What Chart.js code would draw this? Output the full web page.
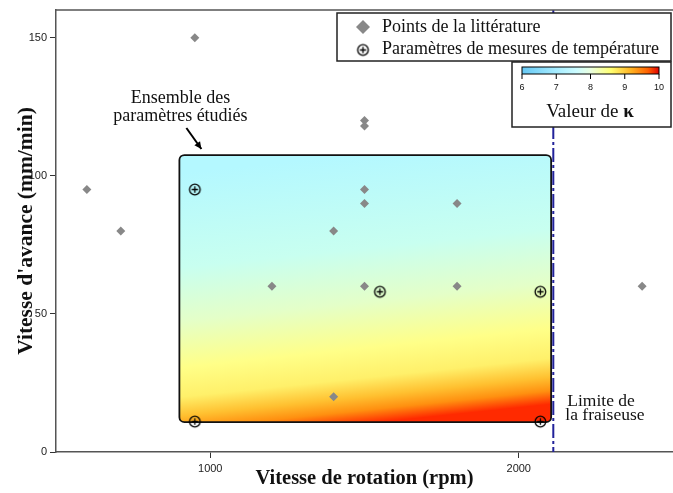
<!DOCTYPE html>
<html>
<head>
<meta charset="utf-8">
<script src="https://cdn.jsdelivr.net/npm/chart.js@4.4.0/dist/chart.umd.min.js"></script>
<style>html,body{margin:0;padding:0;background:#fff}</style>
</head>
<body>
<canvas id="myChart" width="673" height="493"></canvas>
<script>
// Données
const litRpm = [600, 710, 950, 1200, 1400, 1400, 1500, 1500, 1500, 1500, 1500, 1800, 1800, 2400];
const litFeed = [95, 80, 150, 60, 80, 20, 120, 118, 95, 90, 60, 90, 60, 60];
const mesRpm = [950, 1550, 2070, 950, 2070];
const mesFeed = [95, 58, 58, 11, 11];
const zoneRpm = [900, 2105];
const zoneFeed = [10.8, 107.5];
const limiteRpm = 2112;
const xTicks = [1000, 2000];
const yTicks = [0, 50, 100, 150];
const kappaTicks = [6, 7, 8, 9, 10];

const SERIF = "'Liberation Serif', 'Times New Roman', serif";
const SANS = "'Liberation Sans', Arial, sans-serif";

function circlePlus(r) {
    const s = Math.ceil(r * 2 + 4);
    const c = document.createElement('canvas');
    c.width = s; c.height = s;
    const g = c.getContext('2d');
    const m = s / 2;
    g.strokeStyle = '#000';
    g.lineWidth = 1.3;
    g.beginPath(); g.arc(m, m, r, 0, Math.PI * 2); g.stroke();
    g.beginPath();
    g.moveTo(m - r * 0.6, m); g.lineTo(m + r * 0.6, m);
    g.moveTo(m, m - r * 0.6); g.lineTo(m, m + r * 0.6);
    g.stroke();
    return c;
}
const markerMes = circlePlus(5.3);

function toPoints(xs, ys) {
    return xs.map((v, i) => ({ x: v, y: ys[i] }));
}

const decor = {
    id: 'decor',
    beforeDatasetsDraw(chart) {
        const { ctx, chartArea } = chart;
        const x = chart.scales.x, y = chart.scales.y;
        const x0 = x.getPixelForValue(zoneRpm[0]), x1 = x.getPixelForValue(zoneRpm[1]);
        const y0 = y.getPixelForValue(zoneFeed[1]), y1 = y.getPixelForValue(zoneFeed[0]);
        const cx = (x0 + x1) / 2;
        const grad = ctx.createLinearGradient(cx - 14, y0, cx + 14, y1);
        grad.addColorStop(0, '#b4f8ff');
        grad.addColorStop(0.35, '#c8fff0');
        grad.addColorStop(0.55, '#e4ffc8');
        grad.addColorStop(0.72, '#ffff88');
        grad.addColorStop(0.83, '#fff06a');
        grad.addColorStop(0.9, '#ffc030');
        grad.addColorStop(0.95, '#ff9010');
        grad.addColorStop(1, '#ff2a00');
        ctx.save();
        ctx.beginPath();
        ctx.roundRect(x0, y0, x1 - x0, y1 - y0, 5);
        ctx.fillStyle = grad;
        ctx.fill();
        ctx.lineWidth = 1.8;
        ctx.strokeStyle = '#111';
        ctx.stroke();

        // limite de la fraiseuse
        const lx = x.getPixelForValue(limiteRpm);
        ctx.setLineDash([14, 3, 3, 3]);
        ctx.strokeStyle = '#22229a';
        ctx.lineWidth = 2;
        ctx.beginPath();
        ctx.moveTo(lx, chartArea.top);
        ctx.lineTo(lx, chartArea.bottom);
        ctx.stroke();
        ctx.setLineDash([]);

        // flèche + textes
        ctx.fillStyle = '#111';
        ctx.font = '18px ' + SERIF;
        ctx.textAlign = 'center';
        ctx.textBaseline = 'middle';
        ctx.fillText('Ensemble des', x0 + 1, y0 - 57);
        ctx.fillText('paramètres étudiés', x0 + 1, y0 - 39);
        ctx.strokeStyle = '#000';
        ctx.lineWidth = 2;
        const ax = x0 + 7, ay = y0 - 27, bx = x0 + 22, by = y0 - 6;
        ctx.beginPath(); ctx.moveTo(ax, ay); ctx.lineTo(bx, by); ctx.stroke();
        const ang = Math.atan2(by - ay, bx - ax);
        ctx.beginPath();
        ctx.moveTo(bx, by);
        ctx.lineTo(bx - 8 * Math.cos(ang - 0.45), by - 8 * Math.sin(ang - 0.45));
        ctx.lineTo(bx - 8 * Math.cos(ang + 0.45), by - 8 * Math.sin(ang + 0.45));
        ctx.closePath();
        ctx.fillStyle = '#000';
        ctx.fill();

        ctx.fillStyle = '#111';
        ctx.font = '17.5px ' + SERIF;
        ctx.textAlign = 'left';
        ctx.fillText('Limite de', lx + 14, chartArea.bottom - 51);
        ctx.fillText('la fraiseuse', lx + 12, chartArea.bottom - 37);
        ctx.restore();
    },
    afterDraw(chart) {
        const { ctx, chartArea } = chart;
        ctx.save();
        // cadre haut
        ctx.strokeStyle = '#555';
        ctx.lineWidth = 1.5;
        ctx.beginPath();
        ctx.moveTo(chartArea.left, chartArea.top);
        ctx.lineTo(chartArea.right, chartArea.top);
        ctx.stroke();

        // légende
        const L = { x: 337, y: 13, w: 334, h: 48 };
        ctx.fillStyle = '#fff';
        ctx.fillRect(L.x, L.y, L.w, L.h);
        ctx.strokeStyle = '#222';
        ctx.lineWidth = 1.5;
        ctx.strokeRect(L.x, L.y, L.w, L.h);
        ctx.fillStyle = '#888';
        ctx.beginPath();
        ctx.moveTo(363, 27 - 7); ctx.lineTo(363 + 7, 27); ctx.lineTo(363, 27 + 7); ctx.lineTo(363 - 7, 27);
        ctx.closePath(); ctx.fill();
        ctx.drawImage(markerMes, 363 - markerMes.width / 2, 50 - markerMes.height / 2);
        ctx.fillStyle = '#111';
        ctx.font = '18px ' + SERIF;
        ctx.textAlign = 'left';
        ctx.textBaseline = 'middle';
        ctx.fillText('Points de la littérature', 382, 27);
        ctx.fillText('Paramètres de mesures de température', 382, 49);

        // barre de couleur
        const C = { x: 512, y: 62, w: 159, h: 65 };
        ctx.fillStyle = '#fff';
        ctx.fillRect(C.x, C.y, C.w, C.h);
        ctx.strokeRect(C.x, C.y, C.w, C.h);
        const bx0 = 522, bx1 = 659, by0 = 67, by1 = 74;
        const kmin = kappaTicks[0], kmax = kappaTicks[kappaTicks.length - 1];
        const cg = ctx.createLinearGradient(bx0, 0, bx1, 0);
        cg.addColorStop(0, '#66c8f4');
        cg.addColorStop(0.25, '#a6ecff');
        cg.addColorStop(0.4, '#ccfcff');
        cg.addColorStop(0.5, '#eaffe0');
        cg.addColorStop(0.65, '#ffff70');
        cg.addColorStop(0.8, '#ffb020');
        cg.addColorStop(0.92, '#ff6000');
        cg.addColorStop(1, '#e00000');
        ctx.fillStyle = cg;
        ctx.fillRect(bx0, by0, bx1 - bx0, by1 - by0);
        ctx.lineWidth = 1;
        ctx.strokeStyle = '#000';
        ctx.strokeRect(bx0, by0, bx1 - bx0, by1 - by0);
        ctx.font = '9px ' + SANS;
        ctx.textAlign = 'center';
        ctx.fillStyle = '#111';
        kappaTicks.forEach(k => {
            const px = bx0 + (k - kmin) / (kmax - kmin) * (bx1 - bx0);
            ctx.beginPath(); ctx.moveTo(px, by1); ctx.lineTo(px, by1 + 5); ctx.stroke();
            ctx.fillText(String(k), px, 88);
        });
        ctx.textAlign = 'left';
        ctx.font = '19px ' + SERIF;
        const w1 = ctx.measureText('Valeur de ').width;
        ctx.font = 'bold 19px ' + SERIF;
        const w2 = ctx.measureText('κ').width;
        const sx = 590 - (w1 + w2) / 2;
        ctx.fillText('κ', sx + w1, 112);
        ctx.font = '19px ' + SERIF;
        ctx.fillText('Valeur de ', sx, 112);
        ctx.restore();
    }
};

const ctx = document.getElementById('myChart').getContext('2d');
const myChart = new Chart(ctx, {
    type: 'scatter',
    data: {
        datasets: [{
            label: 'Points de la littérature',
            data: toPoints(litRpm, litFeed),
            pointStyle: 'rectRot',
            pointRadius: 4.5,
            backgroundColor: '#888888',
            borderWidth: 0
        }, {
            label: 'Paramètres de mesures de température',
            data: toPoints(mesRpm, mesFeed),
            pointStyle: markerMes
        }]
    },
    options: {
        responsive: false,
        animation: false,
        layout: { autoPadding: false, padding: { top: 10, right: 0, left: 0, bottom: 0 } },
        plugins: {
            legend: { display: false },
            tooltip: { enabled: false }
        },
        scales: {
            x: {
                type: 'linear',
                min: 500,
                max: 2500,
                afterBuildTicks: s => { s.ticks = xTicks.map(v => ({ value: v })); },
                afterFit: s => { s.height = 41; s.paddingLeft = 0; s.paddingRight = 0; },
                grid: { drawOnChartArea: false, tickLength: 6, color: '#333' },
                border: { color: '#555', width: 1.5 },
                ticks: { color: '#222', font: { family: SANS, size: 11 }, padding: 4, maxRotation: 0, callback: v => String(v) },
                title: {
                    display: true,
                    text: 'Vitesse de rotation (rpm)',
                    color: '#111',
                    font: { family: SERIF, size: 20.5, weight: 'bold' },
                    padding: { top: 0, bottom: 2 }
                }
            },
            y: {
                min: 0,
                max: 160,
                afterBuildTicks: s => { s.ticks = yTicks.map(v => ({ value: v })); },
                afterFit: s => { s.width = 56; s.paddingTop = 0; s.paddingBottom = 0; },
                grid: { drawOnChartArea: false, tickLength: 6, color: '#333' },
                border: { color: '#555', width: 1.5 },
                ticks: { color: '#222', font: { family: SANS, size: 11 }, padding: 3, callback: v => String(v) },
                title: {
                    display: true,
                    text: "Vitesse d'avance (mm/min)",
                    color: '#111',
                    font: { family: SERIF, size: 21.5, weight: 'bold' },
                    padding: { top: 14, bottom: 0 }
                }
            }
        }
    },
    plugins: [decor]
});
</script>
</body>
</html>
